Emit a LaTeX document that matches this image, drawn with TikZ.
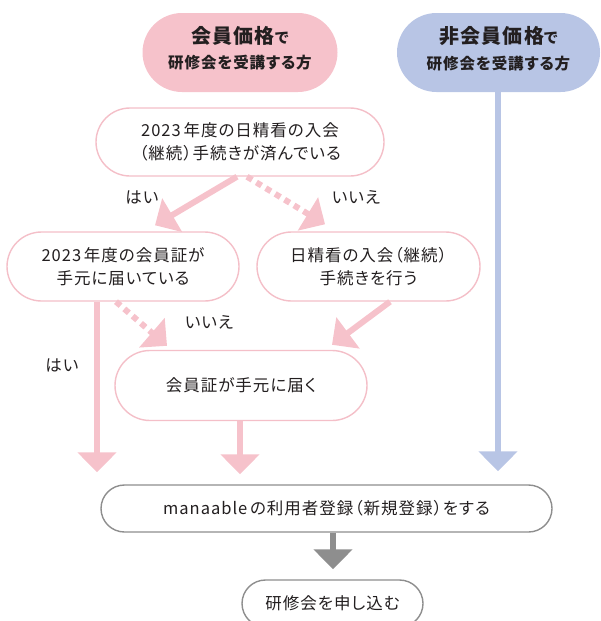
\documentclass[tikz,border=0pt]{standalone}
\usepackage{fontspec}
\setmainfont{Noto Sans CJK JP}[RawFeature=+palt, LetterSpace=6]
\usetikzlibrary{arrows.meta,calc}
\definecolor{pk}{HTML}{F6C2CB}
\definecolor{pkline}{HTML}{F4BFC8}
\definecolor{bl}{HTML}{B8C5E5}
\definecolor{gr}{HTML}{8E8E8E}
\definecolor{tx}{HTML}{231F20}
\tikzset{
  pill/.style n args={3}{draw=pkline, line width=1.4pt, fill=white, rounded corners=#3,
    minimum width=#1, minimum height=#2, inner sep=0pt, align=center, text=tx,
    font=\fontsize{16.5}{23}\selectfont},
  toppill/.style n args={3}{fill=#3, rounded corners=39.5pt, minimum width=#1, minimum height=#2,
    inner sep=0pt},
  toptext/.style={align=center, text=tx, inner sep=0pt},
  lbl/.style={text=tx, inner sep=0pt, font=\fontsize{16.5}{18}\selectfont},
  pkarrow/.style={draw=pk, line width=6pt, -{Triangle[width=38pt,length=20pt]}},
  pkdots/.style={pkarrow, dash pattern=on 6pt off 5pt},
  blarrow/.style={draw=bl, line width=6pt, -{Triangle[width=38pt,length=20pt]}},
  grarrow/.style={draw=gr, line width=6pt, -{Triangle[width=38pt,length=20pt]}},
}
\begin{document}
\begin{tikzpicture}[x=1pt,y=-1pt]
\useasboundingbox (0,0) rectangle (601,621);
\clip (0,0) rectangle (601,621);
% top nodes
\node[toppill={195pt}{79pt}{pk}] (P) at (240,52.5) {};
\node[toptext] (Pt) at ($(P.center)+(0,-4)$)
  {{\fontsize{20}{22}\selectfont\bfseries 会員価格}{\fontsize{15}{22}\selectfont\bfseries で}\\[9pt]
   {\fontsize{15.5}{18}\selectfont\bfseries 研修会を受講する方}};
\node[toppill={203pt}{79pt}{bl}] (Q) at (498.5,52.5) {};
\node[toptext] (Qt) at ($(Q.center)+(0,-4)$)
  {{\fontsize{20}{22}\selectfont\bfseries 非会員価格}{\fontsize{15}{22}\selectfont\bfseries で}\\[9pt]
   {\fontsize{15.5}{18}\selectfont\bfseries 研修会を受講する方}};
% flow nodes
\node[pill={288pt}{68pt}{34pt}] (A) at (240,142) {2023\,年度の日精看の入会\\（継続）手続きが済んでいる};
\node[pill={232pt}{69pt}{34.5pt}] (B) at (123,266.5) {2023\,年度の会員証が\\手元に届いている};
\node[pill={223pt}{69pt}{34.5pt}] (C) at (368.5,266.5) {日精看の入会（継続）\\手続きを行う};
\node[pill={252pt}{70pt}{35pt}] (D) at (241,385.5) {会員証が手元に届く};
\node[pill={451pt}{47pt}{23.5pt}, draw=gr] (E) at (326.5,508.5) {manaable\,の利用者登録（新規登録）をする};
\node[pill={181pt}{47pt}{23.5pt}, draw=gr] (F) at (332.5,603.5) {研修会を申し込む};
% labels
\node[lbl] (L1) at (142,197) {はい};
\node[lbl] (L2) at (356,197) {いいえ};
\node[lbl] (L3) at (62,365) {はい};
\node[lbl] (L4) at (209,322) {いいえ};
% connectors
\draw[pkarrow] ($(A.south)+(-3,0)$) -- ($(B.north)+(32,-6)$);
\draw[pkdots] ($(A.south)+(7,0)$) -- ($(C.north)+(-43.5,-7)$);
\draw[pkdots] ($(B.south)+(-7,0)$) -- ($(D.north)+(-74,-4)$);
\draw[pkarrow] ($(C.south)+(21.5,0)$) -- ($(D.north)+(91,-5)$);
\draw[pkarrow] ($(B.south)+(-26,0)$) -- ($(B.south |- E.north)+(-26,-12)$);
\draw[pkarrow] ($(D.south)+(-1,0)$) -- ($(D.south |- E.north)+(-1,-10)$);
\draw[blarrow] ($(Q.south)+(-0.5,0)$) -- ($(Q.south |- E.north)+(-0.5,-13)$);
\draw[grarrow] ($(E.south)+(6.5,0)$) -- ($(F.north)+(0.5,-10)$);
\end{tikzpicture}
\end{document}
